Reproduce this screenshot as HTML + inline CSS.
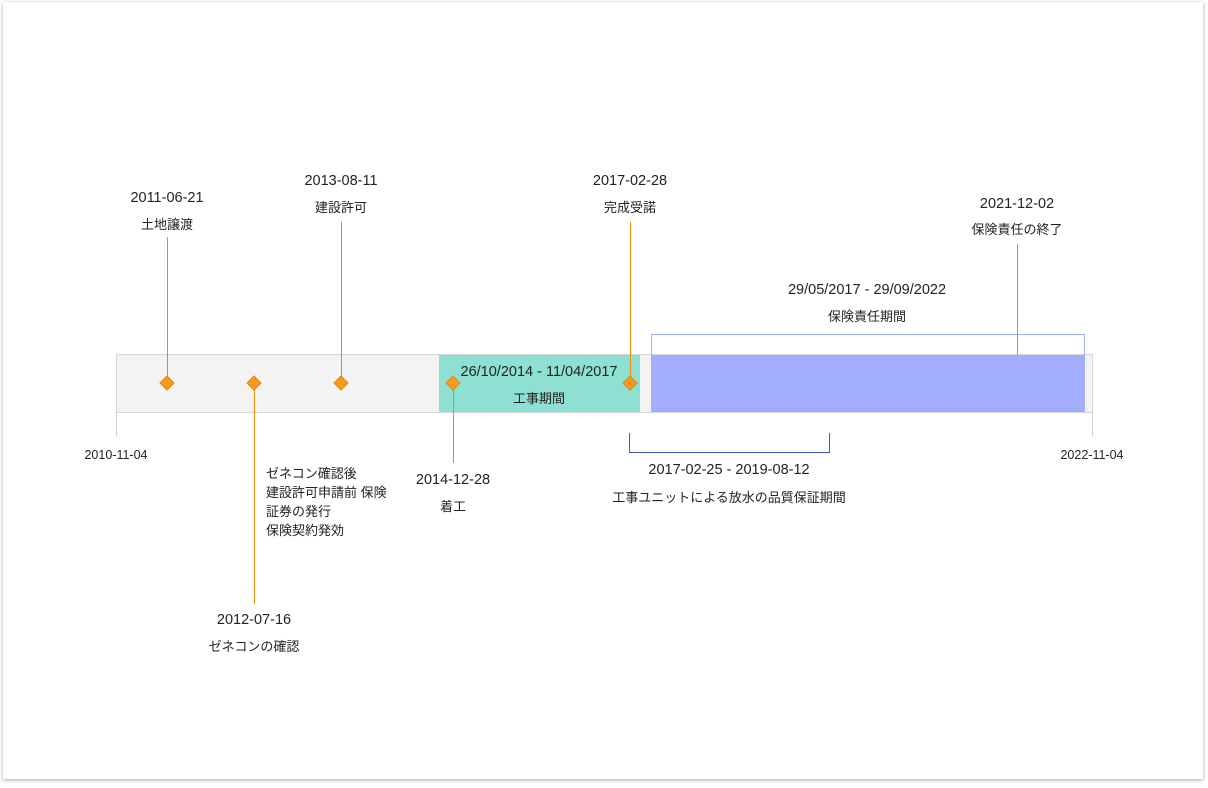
<!DOCTYPE html>
<html><head><meta charset="utf-8"><style>
body{margin:0;background:#fff;width:1208px;height:788px;overflow:hidden}
.card{position:absolute;left:3px;top:2px;width:1200px;height:777px;background:#fff;box-shadow:0 1px 4px rgba(0,0,0,.35)}
svg{position:absolute;left:0;top:0}
text{font-family:"Liberation Sans","Noto Sans CJK JP",sans-serif;font-size:14.5px;fill:#222;text-anchor:middle}
text.j{font-size:13px}
</style></head><body>
<div class="card"></div>
<svg width="1208" height="788">
<rect x="116.5" y="354.5" width="976" height="58" fill="#f3f3f3" stroke="#d6d6d6"/>
<line x1="116.5" y1="412" x2="116.5" y2="436" stroke="#d0d0d0"/>
<line x1="1092.5" y1="412" x2="1092.5" y2="436" stroke="#d0d0d0"/>
<rect x="439" y="355" width="201" height="57" fill="#8de0d2"/>
<rect x="651" y="355" width="434" height="57" fill="#a2aefc"/>
<path d="M651.5 355 V334.5 H1084.5 V355" fill="none" stroke="#a2aefc"/>
<path d="M629.5 433 V452.5 H829.5 V433" fill="none" stroke="#4055d0"/>
<g stroke="#c49050" stroke-width="1">
<line x1="167.5" y1="237" x2="167.5" y2="383"/>
<line x1="341.5" y1="222" x2="341.5" y2="383"/>
<line x1="1017.5" y1="244" x2="1017.5" y2="355"/>
<line x1="453.5" y1="383" x2="453.5" y2="463"/>
</g>
<g stroke="#f0930a">
<line x1="254.5" y1="383" x2="254.5" y2="604"/>
<line x1="630.5" y1="222" x2="630.5" y2="383"/>
</g>
<g fill="#f7991c" stroke="#e08a10">
<path d="M167 376 l7 7 -7 7 -7 -7z"/>
<path d="M254 376 l7 7 -7 7 -7 -7z"/>
<path d="M341 376 l7 7 -7 7 -7 -7z"/>
<path d="M453 376 l7 7 -7 7 -7 -7z"/>
<path d="M630 376 l7 7 -7 7 -7 -7z"/>
</g>
<text x="167" y="202">2011-06-21</text><text class="j" x="167" y="229">土地譲渡</text>
<text x="341" y="185">2013-08-11</text><text class="j" x="341" y="212">建設許可</text>
<text x="630" y="185">2017-02-28</text><text class="j" x="630" y="212">完成受諾</text>
<text x="1017" y="208">2021-12-02</text><text class="j" x="1017" y="234">保険責任の終了</text>
<text x="867" y="294">29/05/2017 - 29/09/2022</text><text class="j" x="867" y="321">保険責任期間</text>
<text x="539" y="376">26/10/2014 - 11/04/2017</text><text class="j" x="539" y="403">工事期間</text>
<text x="116" y="459" style="font-size:12.5px">2010-11-04</text>
<text x="1092" y="459" style="font-size:12.5px">2022-11-04</text>
<text x="453" y="484">2014-12-28</text><text class="j" x="453" y="511">着工</text>
<text x="729" y="474">2017-02-25 - 2019-08-12</text><text class="j" x="729" y="502">工事ユニットによる放水の品質保証期間</text>
<text x="266" y="478" style="text-anchor:start;font-size:13px">ゼネコン確認後</text>
<text x="266" y="497" style="text-anchor:start;font-size:13px">建設許可申請前 保険</text>
<text x="266" y="516" style="text-anchor:start;font-size:13px">証券の発行</text>
<text x="266" y="535" style="text-anchor:start;font-size:13px">保険契約発効</text>
<text x="254" y="624">2012-07-16</text><text class="j" x="254" y="651">ゼネコンの確認</text>
</svg>
</body></html>
